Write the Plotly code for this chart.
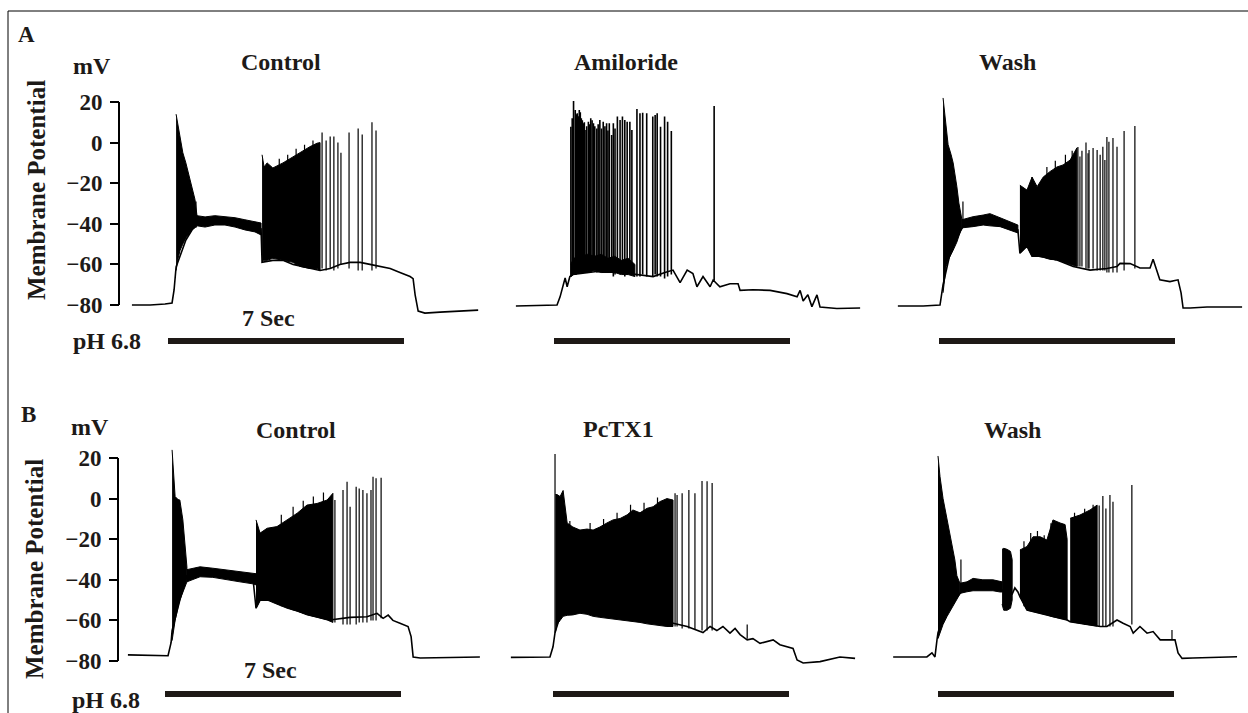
import plotly.graph_objects as go

# ---------------- data (time in s from start of pH 6.8 pulse, membrane potential in mV) ----------------
# Row A: Control
ac_line_t = [-1.07, -0.53, -0.09, 0.12, 0.18, 0.24, 0.53, 0.86, 1.10, 1.39, 1.69, 1.99, 2.28, 2.58, 2.76, 2.79, 3.11, 3.41, 3.71, 4.21, 4.51, 4.81, 5.10, 5.40, 5.70, 5.99, 6.29, 6.59, 6.88, 7.18, 7.27, 7.33, 7.42, 7.62, 8.07, 8.66, 9.20]
ac_line_v = [-80, -80, -79.5, -79, -72.6, -61.3, -48, -39, -39, -38.5, -38.5, -39.5, -40.5, -41.5, -42.5, -59, -58, -58, -60, -62, -63, -62, -60, -59, -59, -60, -61, -62, -64, -66, -67, -75, -83, -84, -83.5, -83, -82.5]
ac_burst1_t = [0.24, 0.30, 0.36, 0.44, 0.53, 0.62, 0.71, 0.80, 0.86]
ac_burst1_hi = [14, 8, 2, -5, -10, -16, -22, -28, -36]
ac_burst1_lo = [-63, -57, -53, -50, -47, -45, -43, -42, -41]
ac_plateau_t = [0.86, 1.10, 1.39, 1.69, 1.99, 2.28, 2.58, 2.76]
ac_plateau_hi = [-36, -36.6, -36, -36.6, -37, -38, -39, -39.6]
ac_plateau_lo = [-41, -41.6, -40.6, -40.6, -41.6, -43, -44, -45.5]
ac_burst2_t = [2.79, 2.85, 2.94, 3.11, 3.41, 3.71, 3.92, 4.21, 4.42, 4.51]
ac_burst2_hi = [-6, -12, -10, -12.5, -10, -7, -4.6, -2, -0.3, 0]
ac_burst2_lo = [-59, -58, -58, -57, -58, -59, -61, -62, -62, -63]
ac_spike_t = [0.83, 3.30, 3.55, 3.80, 4.05, 4.30, 4.57, 4.69, 4.81, 4.92, 5.04, 5.13, 5.37, 5.64, 5.76, 6.05, 6.17]
ac_spike_peak = [-29, -8, -6, -3, -1, 1, 5, 1, 3, 3, 0, -5, 5, 7, 4, 10, 6]
ac_spike_trough = [-42, -58, -58, -60, -61, -62, -62, -63, -62, -63, -62, -60, -62, -63, -63, -63, -62]

# Row A: Amiloride
am_line_t = [-1.13, -0.42, 0.09, 0.18, 0.33, 0.39, 0.47, 0.56, 1.00, 1.50, 2.00, 2.55, 2.94, 3.29, 3.53, 3.74, 3.95, 4.12, 4.24, 4.42, 4.63, 4.72, 4.92, 5.22, 5.46, 5.52, 5.90, 6.41, 6.91, 7.21, 7.30, 7.39, 7.53, 7.65, 7.80, 7.89, 8.39, 9.08]
am_line_v = [-80.5, -80.3, -80, -76, -66.7, -71, -66, -65, -64, -63, -64, -65, -66, -64, -62.8, -69, -62.8, -64.5, -71, -66, -71, -67.7, -71, -69.5, -69.5, -72.8, -72.5, -72.8, -74.4, -76, -72.8, -78, -75, -80.8, -75, -81, -81.7, -81.5]
am_burst_t = [0.50, 0.58, 0.80, 1.00, 1.20, 1.40, 1.60, 1.80, 2.00, 2.20, 2.40]
am_burst_hi = [-60, -57, -56, -55, -56, -55, -57, -56, -58, -57, -60]
am_burst_lo = [-66, -65, -64, -64, -63, -64, -64, -64, -65, -65, -66]
am_spike_t = [0.50, 0.54, 0.58, 0.63, 0.66, 0.69, 0.72, 0.75, 0.78, 0.81, 0.84, 0.87, 0.90, 0.92, 0.97, 1.02, 1.05, 1.09, 1.13, 1.17, 1.21, 1.27, 1.31, 1.36, 1.41, 1.46, 1.51, 1.56, 1.60, 1.64, 1.71, 1.76, 1.81, 1.88, 1.96, 2.03, 2.10, 2.17, 2.25, 2.31, 2.46, 2.55, 2.63, 2.75, 2.93, 3.00, 3.06, 3.16, 3.28, 3.37, 3.48, 4.75]
am_spike_peak = [7.8, 12, 20.5, 16.1, 14, 14.4, 13, 16.1, 15, 12, 11, 9.5, 10, 6.2, 8, 10.3, 9, 12, 11, 9.5, 8, 7, 9, 11.1, 7, 10.3, 8, 9.5, 6, 9.5, 3.7, 9.5, 7, 12.8, 11.1, 12.8, 11.1, 10.3, 10.3, 6.2, 16.6, 14.4, 14.7, 14.4, 12.8, 13.6, 14.4, 7.8, 12.8, 10.3, 5.7, 18]
am_spike_trough = [-66, -65, -65, -65, -65, -64, -64, -64, -64, -64, -64, -64, -64, -64, -64, -64, -64, -64, -63, -63, -63, -64, -64, -64, -64, -64, -64, -64, -64, -64, -64, -66, -65, -64, -65, -64, -66, -65, -64, -65, -66, -66, -65, -66, -66, -65, -66, -66, -67, -66, -65, -68]

# Row A: Wash
aw_line_t = [-1.22, -0.47, 0.03, 0.09, 0.12, 0.33, 0.47, 0.62, 0.71, 1.01, 1.31, 1.60, 1.90, 2.20, 2.34, 2.40, 2.61, 2.76, 3.00, 3.50, 3.98, 4.48, 4.98, 5.28, 5.37, 5.67, 5.96, 6.26, 6.35, 6.55, 6.85, 7.09, 7.18, 7.24, 7.45, 7.95, 8.43, 8.99]
aw_line_v = [-80.5, -80.5, -80, -74, -70, -54.5, -49, -44, -41.5, -39, -38, -38.5, -40, -42, -43, -54.5, -51, -56, -56, -57.8, -61, -62.8, -62, -61, -59.5, -59.6, -61.8, -61.8, -57.5, -67.6, -68.5, -67.6, -74, -81.5, -81.5, -81, -81, -81]
aw_burst1_t = [0.12, 0.21, 0.27, 0.36, 0.42, 0.53, 0.59, 0.68]
aw_burst1_hi = [22, 8, -1, -6, -10, -21.7, -29.8, -38]
aw_burst1_lo = [-74, -61, -58, -55, -53, -49, -46, -42]
aw_plateau_t = [0.68, 1.01, 1.31, 1.51, 1.81, 2.11, 2.34]
aw_plateau_hi = [-38, -36.5, -35.7, -35, -37, -39, -40.6]
aw_plateau_lo = [-42, -41.4, -40.6, -41, -41.4, -43, -44.5]
aw_burst2_t = [2.40, 2.61, 2.76, 2.91, 3.09, 3.29, 3.50, 3.68, 3.89, 4.09]
aw_burst2_hi = [-21, -23.4, -17, -21.7, -17, -14.3, -12, -11, -8.6, -2.6]
aw_burst2_lo = [-54.5, -51, -56, -56, -56.5, -57.5, -57.8, -59, -60, -61]
aw_spike_t = [0.71, 2.76, 3.20, 3.45, 3.75, 3.95, 4.12, 4.18, 4.24, 4.36, 4.42, 4.45, 4.57, 4.69, 4.78, 4.86, 4.92, 4.98, 5.04, 5.16, 5.28, 5.49, 5.81]
aw_spike_peak = [-29, -17, -12, -9, -6, -4, -2.2, -6.9, -4, 0, -5.2, -3.6, -2.6, -3.6, -6, -2, -8.6, 2.8, 0.4, 2.3, -2, 5.7, 8.2]
aw_spike_trough = [-42, -56, -57, -58, -59, -60, -61, -61, -61, -62, -62, -62, -62, -63, -63, -63, -63, -64, -64, -64, -64, -63, -62]

# Row B: Control
bc_line_t = [-1.10, -0.50, 0.09, 0.18, 0.21, 0.44, 0.65, 1.04, 1.42, 1.84, 2.22, 2.61, 2.70, 2.82, 3.11, 3.71, 4.30, 4.89, 5.49, 5.99, 6.29, 6.47, 6.62, 6.76, 6.97, 7.21, 7.30, 7.36, 7.57, 8.45, 9.34]
bc_line_v = [-77, -77.3, -77.4, -71, -65, -50, -38, -36, -36.5, -37.5, -38.5, -39.5, -54, -50, -50, -54, -57.3, -59.8, -58.5, -58.2, -56.5, -59, -57.4, -60, -61.4, -63, -68, -78, -78.5, -78.3, -78]
bc_burst1_t = [0.21, 0.30, 0.39, 0.44, 0.53, 0.59, 0.65]
bc_burst1_hi = [24, 1, -0.5, -0.7, -10.5, -23.7, -33.6]
bc_burst1_lo = [-70, -60, -53, -50, -46, -43.4, -41]
bc_plateau_t = [0.65, 1.04, 1.42, 1.84, 2.22, 2.61, 2.70]
bc_plateau_hi = [-35, -33.6, -34.3, -35.2, -36, -36.8, -37]
bc_plateau_lo = [-41, -38.5, -38.8, -40, -41, -42, -42.5]
bc_burst2_t = [2.70, 2.82, 3.03, 3.32, 3.62, 3.92, 4.21, 4.51, 4.81, 4.98]
bc_burst2_hi = [-10.5, -17, -14.6, -13.8, -10.5, -7.2, -3.2, -2.4, -0.7, 2.6]
bc_burst2_lo = [-54, -50, -50, -52, -54, -55.5, -57.3, -58.5, -59.8, -61]
bc_spike_t = [3.45, 3.80, 4.10, 4.40, 4.70, 5.04, 5.28, 5.40, 5.49, 5.67, 5.76, 5.87, 5.99, 6.11, 6.17, 6.26, 6.41]
bc_spike_peak = [-8, -4, -1, 1, 3, -0.7, 4.2, 8.3, -4, 5.8, 5, 4.2, 2.6, 4.2, 10.8, 10, 10.3]
bc_spike_trough = [-53, -55, -56, -58, -59, -61, -62, -62, -62, -62, -61, -61, -61, -60, -60, -60, -59]

# Row B: PcTX1
bp_line_t = [-1.25, -0.09, 0.00, 0.06, 0.21, 0.50, 0.80, 1.19, 1.60, 1.99, 2.49, 2.97, 3.47, 3.98, 4.27, 4.45, 4.66, 4.86, 5.04, 5.25, 5.40, 5.55, 5.76, 5.93, 6.14, 6.53, 6.73, 6.94, 7.12, 7.24, 7.42, 7.92, 8.51, 8.96]
bp_line_v = [-78.2, -78, -73, -66, -58, -56, -55, -56, -57, -58, -59, -60, -61, -63, -64.7, -66, -63, -65, -63, -66.3, -64, -67, -69.6, -69, -71.3, -69.6, -72, -73, -73.8, -79.5, -81, -80.3, -78, -78.7]
bp_burst_t = [0.07, 0.12, 0.21, 0.30, 0.42, 0.59, 0.80, 1.01, 1.19, 1.39, 1.60, 1.78, 1.99, 2.20, 2.37, 2.58, 2.79, 2.97, 3.17, 3.38, 3.56]
bp_burst_hi = [2, 2, 1, 4, -12, -14, -15.5, -15, -15.5, -14, -12, -10.5, -9.8, -8, -5.6, -7, -4.8, -4, -1.5, 0, -0.7]
bp_burst_lo = [-66, -62, -60, -58, -57.5, -57.3, -56.5, -57, -58, -58.5, -59, -59.5, -60, -60.3, -60.6, -61, -61.7, -62.3, -62.6, -63, -63]
bp_spike_t = [0.06, 0.50, 1.10, 1.50, 1.90, 2.30, 2.70, 3.10, 3.62, 3.68, 3.83, 4.03, 4.21, 4.42, 4.57, 4.72, 5.76]
bp_spike_peak = [22, -11, -12, -10, -7, -3, -2, 0.5, 2.6, 1.8, 2.6, 4.2, 2.6, 8.7, 8.5, 7.7, -62]
bp_spike_trough = [-66, -57, -57, -58, -59, -60, -61, -62, -63, -63, -64, -64, -64.7, -65, -65, -65, -69]

# Row B: Wash
bw_line_t = [-1.33, -0.33, -0.18, -0.09, -0.03, 0.00, 0.12, 0.27, 0.42, 0.56, 0.65, 0.86, 1.25, 1.63, 1.84, 1.90, 2.05, 2.20, 2.28, 2.37, 2.43, 2.64, 3.03, 3.41, 3.83, 3.92, 4.21, 4.51, 4.81, 5.01, 5.31, 5.49, 5.70, 5.79, 5.99, 6.20, 6.38, 6.59, 6.88, 7.03, 7.12, 7.24, 7.56, 8.16, 8.87]
bw_line_v = [-78, -78, -76, -78, -69.6, -66, -60, -55, -51.6, -48.3, -46.7, -43.5, -43, -43, -43.5, -45, -48, -47, -44, -46, -48.3, -54.9, -56.5, -58.2, -59.8, -60.6, -61.4, -62.3, -63, -63, -59.8, -61.4, -63, -66.3, -63, -66.3, -65.5, -69.6, -69.6, -69.6, -76, -78.7, -78.5, -78.2, -77.9]
bw_burst1_t = [0.00, 0.06, 0.15, 0.27, 0.42, 0.50, 0.56, 0.65]
bw_burst1_hi = [21, 10.8, 0, -10.5, -22.8, -30.2, -38, -41.7]
bw_burst1_lo = [-69, -66, -62, -58, -54, -51.6, -49.5, -47]
bw_plateau_t = [0.65, 0.86, 1.04, 1.33, 1.63, 1.84, 1.90]
bw_plateau_hi = [-41.7, -41, -39.3, -40, -40, -41, -41]
bw_plateau_lo = [-46.7, -45.9, -45.4, -45.4, -45.4, -46, -46]
bw_block_t = [1.90, 1.95, 2.05, 2.15, 2.20]
bw_block_hi = [-25, -24.5, -25, -26, -30]
bw_block_lo = [-52, -55, -55, -54, -50]
bw_burst2_t = [2.43, 2.64, 2.82, 3.03, 3.23, 3.41, 3.62, 3.77, 3.83]
bw_burst2_hi = [-25.3, -23.6, -18.8, -18.8, -20.4, -10.5, -12, -12.8, -20]
bw_burst2_lo = [-48.3, -54.9, -55.5, -56.5, -57.3, -58.2, -59, -59.5, -59.8]
bw_burst3_t = [3.92, 4.21, 4.51, 4.72]
bw_burst3_hi = [-9.7, -8.1, -5.6, -3.2]
bw_burst3_lo = [-60.6, -61.4, -62.3, -62.8]
bw_spike_t = [0.68, 2.55, 2.75, 2.95, 3.15, 3.35, 4.05, 4.35, 4.60, 4.78, 4.89, 4.98, 5.10, 5.19, 5.75, 6.94]
bw_spike_peak = [-30, -21, -17, -16, -18, -12.2, -7, -5, -3, -3.4, 1.3, -4.9, 1.8, -1.5, 6.7, -64.7]
bw_spike_trough = [-46, -53, -55, -56, -57, -58, -61, -62, -62, -63, -63, -63, -63, -63, -62, -69.6]

pulse_start = 0.0   # s, pH 6.8 application
pulse_end = 7.0     # s
y_ticks = [-80, -60, -40, -20, 0, 20]
panel_titles = ["Control", "Amiloride", "Wash", "Control", "PcTX1", "Wash"]

# ---------------- layout geometry ----------------
W, H = 1248, 713
K = 236 / 7.0          # px per second
MV = 2.03              # px per mV
FONT = "Liberation Serif"
TXT = "#1d1a18"
INK = "#000000"
BAR = "#1e1916"


def pxx(x):
    return x / W


def pyy(y):
    return 1 - y / H


panels = [
    dict(ax="x", ay="y", S=168, r=(-1.4, 9.4), line=(ac_line_t, ac_line_v), sw=1.2,
         bands=[(ac_burst1_t, ac_burst1_hi, ac_burst1_lo), (ac_plateau_t, ac_plateau_hi, ac_plateau_lo),
                (ac_burst2_t, ac_burst2_hi, ac_burst2_lo)],
         spikes=(ac_spike_t, ac_spike_peak, ac_spike_trough)),
    dict(ax="x2", ay="y", S=554, r=(-1.4, 9.4), line=(am_line_t, am_line_v), sw=1.6,
         bands=[(am_burst_t, am_burst_hi, am_burst_lo)],
         spikes=(am_spike_t, am_spike_peak, am_spike_trough)),
    dict(ax="x3", ay="y", S=939, r=(-1.4, 9.05), line=(aw_line_t, aw_line_v), sw=1.2,
         bands=[(aw_burst1_t, aw_burst1_hi, aw_burst1_lo), (aw_plateau_t, aw_plateau_hi, aw_plateau_lo),
                (aw_burst2_t, aw_burst2_hi, aw_burst2_lo)],
         spikes=(aw_spike_t, aw_spike_peak, aw_spike_trough)),
    dict(ax="x4", ay="y2", S=165, r=(-1.4, 9.4), line=(bc_line_t, bc_line_v), sw=1.2,
         bands=[(bc_burst1_t, bc_burst1_hi, bc_burst1_lo), (bc_plateau_t, bc_plateau_hi, bc_plateau_lo),
                (bc_burst2_t, bc_burst2_hi, bc_burst2_lo)],
         spikes=(bc_spike_t, bc_spike_peak, bc_spike_trough)),
    dict(ax="x5", ay="y2", S=553, r=(-1.4, 9.4), line=(bp_line_t, bp_line_v), sw=1.2,
         bands=[(bp_burst_t, bp_burst_hi, bp_burst_lo)],
         spikes=(bp_spike_t, bp_spike_peak, bp_spike_trough)),
    dict(ax="x6", ay="y2", S=938, r=(-1.4, 9.05), line=(bw_line_t, bw_line_v), sw=1.2,
         bands=[(bw_burst1_t, bw_burst1_hi, bw_burst1_lo), (bw_plateau_t, bw_plateau_hi, bw_plateau_lo),
                (bw_block_t, bw_block_hi, bw_block_lo), (bw_burst2_t, bw_burst2_hi, bw_burst2_lo),
                (bw_burst3_t, bw_burst3_hi, bw_burst3_lo)],
         spikes=(bw_spike_t, bw_spike_peak, bw_spike_trough)),
]

fig = go.Figure()
for p in panels:
    lt, lv = p["line"]
    fig.add_trace(go.Scatter(x=lt, y=lv, mode="lines", xaxis=p["ax"], yaxis=p["ay"],
                             line=dict(color=INK, width=1.6), hoverinfo="skip", showlegend=False))
    for bt, bhi, blo in p["bands"]:
        fig.add_trace(go.Scatter(x=list(bt) + list(bt)[::-1], y=list(bhi) + list(blo)[::-1],
                                 mode="lines", fill="toself", fillcolor=INK, xaxis=p["ax"], yaxis=p["ay"],
                                 line=dict(color=INK, width=1), hoverinfo="skip", showlegend=False))
    st, sp, sl = p["spikes"]
    xs, ys = [], []
    for t, pk, tr in zip(st, sp, sl):
        xs += [t, t, None]
        ys += [tr, pk, None]
    fig.add_trace(go.Scatter(x=xs, y=ys, mode="lines", xaxis=p["ax"], yaxis=p["ay"],
                             line=dict(color=INK, width=p["sw"]), hoverinfo="skip", showlegend=False))

YR = (-90, 26)
rows = {"y": dict(base=305, axis_x=119), "y2": dict(base=661, axis_x=118)}

layout = dict(width=W, height=H, margin=dict(l=0, r=0, t=0, b=0),
              paper_bgcolor="white", plot_bgcolor="rgba(0,0,0,0)", showlegend=False)

for i, p in enumerate(panels):
    key = "xaxis" if i == 0 else f"xaxis{i + 1}"
    r0, r1 = p["r"]
    layout[key] = dict(domain=[pxx(p["S"] + r0 * K), pxx(p["S"] + r1 * K)], range=[r0, r1],
                       visible=False, anchor=p["ay"], fixedrange=True)

shapes = []
for yk, info in rows.items():
    bottom = info["base"] + (-80 - YR[0]) * MV
    top = info["base"] - (YR[1] + 80) * MV
    key = "yaxis" if yk == "y" else "yaxis2"
    layout[key] = dict(domain=[pyy(bottom), pyy(top)], range=list(YR), tickvals=y_ticks,
                       ticks="outside", ticklen=9, tickwidth=2, tickcolor=INK, showline=False,
                       showgrid=False, zeroline=False, anchor="free", position=pxx(info["axis_x"]),
                       ticklabelstandoff=3,
                       tickfont=dict(family=FONT, size=23, color=TXT, weight="bold"), fixedrange=True)
    shapes.append(dict(type="line", xref="paper", yref=yk, x0=pxx(info["axis_x"]), x1=pxx(info["axis_x"]),
                       y0=-80, y1=20, line=dict(color=INK, width=2)))

# pH pulse bars
for p, ybar in zip(panels, [341, 341, 341, 694, 694, 694]):
    shapes.append(dict(type="line", xref=p["ax"], yref="paper", x0=pulse_start, x1=pulse_end,
                       y0=pyy(ybar), y1=pyy(ybar), line=dict(color=BAR, width=6)))

# frame
shapes.append(dict(type="line", xref="paper", yref="paper", x0=pxx(8), x1=1, y0=pyy(11), y1=pyy(11),
                   line=dict(color=INK, width=1)))
shapes.append(dict(type="line", xref="paper", yref="paper", x0=pxx(8), x1=pxx(8), y0=0, y1=pyy(11),
                   line=dict(color=INK, width=1)))
layout["shapes"] = shapes


def ann(text, x, y, size=24, angle=0):
    return dict(text=text, x=pxx(x), y=pyy(y), xref="paper", yref="paper", showarrow=False,
                xanchor="center", yanchor="middle", textangle=angle,
                font=dict(family=FONT, size=size, color=TXT, weight="bold"))


annots = [
    ann("A", 26, 35, 23), ann("B", 28, 414, 23),
    ann("mV", 92, 66), ann("mV", 90, 427),
    ann(panel_titles[0], 281, 62), ann(panel_titles[1], 626, 62), ann(panel_titles[2], 1007, 62),
    ann(panel_titles[3], 296, 430), ann(panel_titles[4], 618, 429), ann(panel_titles[5], 1012, 430),
    ann("7 Sec", 268, 318), ann("7 Sec", 270, 670),
    ann("pH 6.8", 107, 341), ann("pH 6.8", 106, 700),
    ann("Membrane Potential", 37, 190, 25, -90), ann("Membrane Potential", 34, 569, 25, -90),
]
layout["annotations"] = annots

fig.update_layout(**layout)
fig.write_html("out.html", config={"displayModeBar": False},
               post_script="document.body.style.margin='0px';document.body.style.overflow='hidden';")
